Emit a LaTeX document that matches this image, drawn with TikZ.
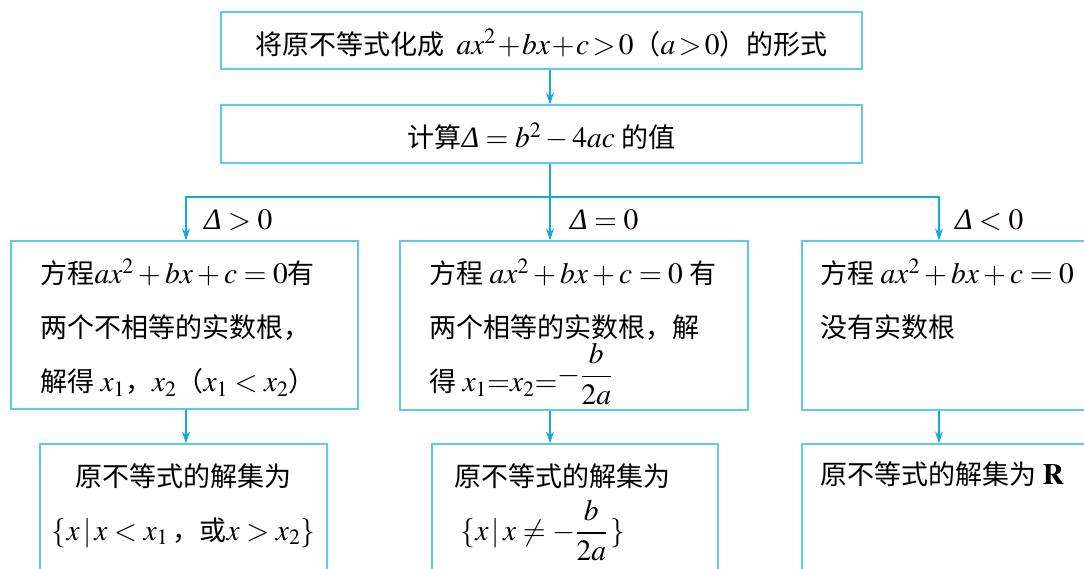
\documentclass[tikz,border=0pt]{standalone}
\usepackage{amsmath}
\usepackage{mathptmx}
\usepackage{fontspec}
\setmainfont{Liberation Serif}
\newfontfamily\cjk[Scale=0.915]{Noto Sans CJK SC}
\usetikzlibrary{arrows.meta,positioning,calc}
\definecolor{frameblue}{RGB}{95,200,238}
\definecolor{arrowblue}{RGB}{18,168,224}
\newcommand{\dlt}{\text{\rmfamily\itshape Δ}}

\begin{document}
\begin{tikzpicture}[x=1pt, y=-1pt, >={Stealth[length=12pt,width=8pt]},
  frame/.style={draw=frameblue, line width=1.3pt, inner sep=0pt},
  words/.style={font=\cjk\fontsize{29.5}{54}\selectfont, inner sep=0pt, align=left},
  flow/.style={->, draw=arrowblue, line width=1.6pt},
  cond/.style={font=\fontsize{29.5}{32}\selectfont, inner sep=0pt, anchor=west}]
  \useasboundingbox (0,0) rectangle (1084,569);
  \clip (0,0) rectangle (1084,569);

  \node [frame, words, minimum width=641pt, minimum height=57pt, text height=30pt, text depth=2pt] (form) at (541.5,40.5)
    {将原不等式化成\ \ {\medmuskip=1mu\thickmuskip=2mu$ax^2+bx+c>0$（$a>0$）}的形式};
  \node [frame, words, minimum width=641pt, minimum height=58pt, text height=30pt, text depth=2pt] (calc) at (541.5,134)
    {计算$\dlt=b^2-4ac$ 的值};

  \node [frame, minimum width=347pt, minimum height=168pt] (gt) at (184.5,325) {};
  \node [frame, minimum width=348pt, minimum height=169pt] (eq) at (574,325.5) {};
  \node [frame, minimum width=347pt, minimum height=169pt] (lt) at (975.5,325.5) {};
  \node [frame, minimum width=287pt, minimum height=160pt] (gtset) at (183.5,524) {};
  \node [frame, minimum width=286pt, minimum height=160pt] (eqset) at (575,524) {};
  \node [frame, minimum width=300pt, minimum height=160pt] (ltset) at (952,524) {};

  \node [words, below right=18pt and 30pt of gt.north west] (gttext)
    {方程$ax^2+bx+c=0$有\\ 两个不相等的实数根，\\ 解得 $x_1$，$x_2$（$x_1<x_2$）};
  \node [words, below right=18pt and 30pt of eq.north west] (eqtext)
    {方程 $ax^2+bx+c=0$ 有\\ 两个相等的实数根，解\\ 得 $x_1\mathord{=}x_2\mathord{=}$\raisebox{8pt}{$-\dfrac{b}{2a}$}};
  \node [words, below right=18pt and 19pt of lt.north west] (lttext)
    {方程 $ax^2+bx+c=0$\\ 没有实数根};
  \node [words, align=center, below=20pt of gtset.north] (gtsettext)
    {原不等式的解集为\\ $\{x\,|\,x<x_1$\,，或$x>x_2\}$};
  \node [words, below right=20pt and 23pt of eqset.north west] (eqsettext)
    {原不等式的解集为\\ \hspace{6pt}$\{x\,|\,x\neq-\dfrac{b}{2a}\,\}$};
  \node [words, below right=18pt and 19pt of ltset.north west] (ltsettext)
    {原不等式的解集为 $\mathbf{R}$};

  \node [cond] (gtcond) at (204,220) {$\dlt>0$};
  \node [cond] (eqcond) at (570,220) {$\dlt=0$};
  \node [cond] (ltcond) at (955,220) {$\dlt<0$};

  \coordinate (split) at (550,197);
  \coordinate (lft) at (186,0);
  \coordinate (rgt) at (939,0);

  \draw [flow] (form.south -| split) -- (calc.north -| split);
  \draw [flow] (calc.south -| split) -- (split) -| (gt.north -| lft);
  \draw [flow] (split) -| (lt.north -| rgt);
  \draw [flow] (split) -- (eq.north -| split);
  \draw [flow] (gt.south -| lft) -- (gtset.north -| lft);
  \draw [flow] (eq.south -| split) -- (eqset.north -| split);
  \draw [flow] (lt.south -| rgt) -- (ltset.north -| rgt);
\end{tikzpicture}
\end{document}
